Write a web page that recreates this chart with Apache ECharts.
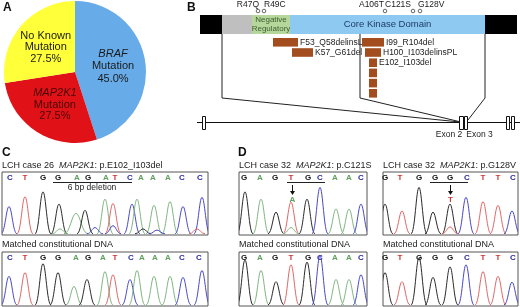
<!DOCTYPE html>
<html><head><meta charset="utf-8">
<script src="https://cdn.jsdelivr.net/npm/echarts@6/dist/echarts.min.js"></script>
<style>html,body{margin:0;padding:0;background:#fff}#c{width:520px;height:307px}</style>
</head><body><div id="c"></div>
<script>
// ---------- Panel A: mutation frequencies ----------
const pieCategories = ['BRAF', 'MAP2K1', 'No Known'];
const pieValues = [45.0, 27.5, 27.5];

// ---------- Panel B: MAP2K1 schematic (schematic position units) ----------
const domainNames = ['', '', 'Negative\nRegulatory', 'Core Kinase Domain', ''];
const domainStart = [10, 32, 62, 100, 295];
const domainEnd = [32, 62, 100, 295, 327];

const pointMutations = ['R47Q', 'R49C', 'A106T', 'C121S', 'G128V'];
const pointMutationPos = [68, 74, 195, 223, 230];

const deletionNames = ['F53_Q58delinsL', 'K57_G61del', 'I99_R104del', 'H100_I103delinsPL', 'E102_I103del', '', '', ''];
const deletionStart = [83, 102, 172, 175, 179, 179, 179, 179];
const deletionEnd = [108, 123, 194, 191, 187, 187, 187, 187];
const deletionRow = [0, 1, 0, 1, 2, 3, 4, 5];

const exonNames = ['', 'Exon 2', 'Exon 3', '', ''];
const exonStart = [12, 269, 274, 316, 321];
const exonEnd = [15, 273, 277, 319, 324];
const geneSpan = [7, 330];

// ---------- Panels C / D: chromatogram peaks [position, height %, base] ----------
const cTopSeq = 'CTGGAGATCAAACC';
const cTopLetterPos = [8, 23, 41, 56, 75, 86, 104, 113, 128, 139, 151, 166, 180, 198];
const cTopPeaks = [[7,44,'C'],[23,60,'T'],[41,68,'G'],[57,48,'G'],[74,33,'A',12],[83,38,'G'],[103,56,'A'],[111,49,'T'],[130,48,'C'],[135,56,'A'],[152,46,'A'],[168,52,'A'],[181,44,'C'],[200,59,'C'],
  [58,8,'A'],[93,10,'C'],[111,13,'C'],[141,8,'G'],[155,6,'C'],[195,8,'T']];
const cBotSeq = 'CTGGAGATCAAACC';
const cBotLetterPos = [8, 23, 41, 56, 74, 86, 101, 113, 129, 140, 153, 166, 180, 197];
const cBotPeaks = [[7,54,'C'],[23,61,'T'],[41,78,'G'],[56,61,'G'],[72,35,'A'],[85,48,'G'],[103,63,'A'],[111,57,'T'],[128,48,'C'],[135,65,'A'],[152,54,'A'],[168,54,'A'],[181,52,'C'],[200,65,'C']];

const d1TopSeq = 'GAGTGCAAC';
const d1TopLetterPos = [5, 21, 36, 52, 69, 81, 96, 110, 122];
const d1TopPeaks = [[6,68,'G'],[22,56,'A'],[37,35,'G'],[52,51,'T'],[68,56,'G'],[81,75,'C'],[97,40,'A'],[110,40,'A'],[122,48,'C'],[52,10,'A']];
const d1BotSeq = 'GAGTGCAAC';
const d1BotLetterPos = [5, 21, 36, 52, 69, 81, 96, 110, 122];
const d1BotPeaks = [[6,85,'G'],[22,65,'A'],[37,44,'G'],[52,76,'T'],[68,81,'G'],[81,93,'C'],[97,48,'A'],[110,48,'A'],[122,57,'C']];

const d2TopSeq = 'GTGGGCTTC';
const d2TopLetterPos = [2, 17, 36, 52, 67, 84, 100, 115, 130];
const d2TopPeaks = [[2,48,'G'],[19,37,'T'],[36,75,'G'],[50,35,'G'],[67,48,'G'],[83,59,'C'],[100,52,'T'],[115,46,'T'],[129,37,'C'],[67,11,'T']];
const d2BotSeq = 'GTGGGCTTC';
const d2BotLetterPos = [2, 17, 36, 52, 67, 84, 100, 115, 130];
const d2BotPeaks = [[2,61,'G'],[19,44,'T'],[36,89,'G'],[50,52,'G'],[67,72,'G'],[83,76,'C'],[100,63,'T'],[115,54,'T'],[129,43,'C']];

// ---------- styling ----------
const FONT = 'Arial, "Liberation Sans", sans-serif';
const peakColor = {A:'#7fb57f', C:'#4848c8', G:'#2a2a2a', T:'#e06666'};
const letterColor = {A:'#5f9f5f', C:'#2a2aa8', G:'#111111', T:'#cc3333'};
const domainColor = ['#000000', '#bfbfbf', '#b5d79c', '#8ec9f1', '#000000'];

const chart = echarts.init(document.getElementById('c'), null, {renderer:'canvas', width:520, height:307});

// chromatogram boxes: [left, top, width, height]
const boxes = [[2,172,206,63],[2,252,206,54],[239,172,128,63],[239,252,128,54],[383,172,135,63],[383,252,135,54]];
const traces = [
  [cTopSeq, cTopLetterPos, cTopPeaks, 8],
  [cBotSeq, cBotLetterPos, cBotPeaks, 8],
  [d1TopSeq, d1TopLetterPos, d1TopPeaks, 8],
  [d1BotSeq, d1BotLetterPos, d1BotPeaks, 8],
  [d2TopSeq, d2TopLetterPos, d2TopPeaks, 8],
  [d2BotSeq, d2BotLetterPos, d2BotPeaks, 8]
];

const grids = [{left:190, top:0, width:330, height:150, show:false}];
const xAxes = [{gridIndex:0, type:'value', min:0, max:330, show:false}];
const yAxes = [{gridIndex:0, type:'value', min:0, max:150, inverse:true, show:false}];
boxes.forEach((b, i) => {
  grids.push({left:b[0], top:b[1], width:b[2], height:b[3], show:true, borderColor:'#555', borderWidth:1, backgroundColor:'transparent'});
  xAxes.push({gridIndex:i+1, type:'value', min:0, max:b[2], show:false});
  yAxes.push({gridIndex:i+1, type:'value', min:-2, max:100, show:false});
});

const series = [];

// Pie
const pieRich = {
  i:{fontFamily:FONT, fontSize:11, fontStyle:'italic', color:'#1a1a1a', lineHeight:12.5},
  n:{fontFamily:FONT, fontSize:11, color:'#1a1a1a', lineHeight:12.5},
  ir:{fontFamily:FONT, fontSize:11, fontStyle:'italic', color:'#4a0505', lineHeight:11.5},
  nr:{fontFamily:FONT, fontSize:11, color:'#4a0505', lineHeight:11.5},
  m:{fontFamily:FONT, fontSize:11, color:'#1a1a1a', lineHeight:11.5}
};
const pieLabelText = [
  '{i|BRAF}\n{n|Mutation}\n{n|45.0%}',
  '{ir|MAP2K1}\n{nr|Mutation}\n{nr|27.5%}',
  '{m|No Known}\n{m|Mutation}\n{m|27.5%}'
];
const pieColors = ['#67abe8', '#e01218', '#ffff3a'];
series.push({
  type:'pie', center:[75,72], radius:71, startAngle:90, clockwise:true, silent:true,
  animation:false,
  data: pieCategories.map((c, i) => ({name:c, value:pieValues[i], itemStyle:{color:pieColors[i]}})),
  label:{show:true, position:'inside', formatter:(p)=>pieLabelText[p.dataIndex], rich:pieRich},
  labelLine:{show:false},
  itemStyle:{borderWidth:0}
});

// Panel B: connectors
const connectors = [[[32,34],[32,98],[270,122]], [[170,34],[170,98],[271,122]], [[295,34],[295,98],[278,120]]];
series.push({
  type:'custom', xAxisIndex:0, yAxisIndex:0, silent:true, animation:false,
  data: connectors.map((c, i) => [i]),
  renderItem:(params, api) => ({type:'polyline', shape:{points:connectors[params.dataIndex].map(p => api.coord(p))}, style:{stroke:'#222', lineWidth:1, fill:null}})
});
// gene line + exons
series.push({
  type:'custom', xAxisIndex:0, yAxisIndex:0, silent:true, animation:false,
  data: [[0]],
  renderItem:(params, api) => {
    const a = api.coord([geneSpan[0], 122]), b = api.coord([geneSpan[1], 122]);
    const children = [{type:'line', shape:{x1:a[0], y1:a[1]+0.5, x2:b[0], y2:b[1]+0.5}, style:{stroke:'#111', lineWidth:1}}];
    exonStart.forEach((s, i) => {
      const p0 = api.coord([s, 116]), p1 = api.coord([exonEnd[i], 129]);
      children.push({type:'rect', shape:{x:Math.round(p0[0])+0.5, y:p0[1]+0.5, width:p1[0]-p0[0], height:p1[1]-p0[1]}, style:{fill:'#fff', stroke:'#111', lineWidth:1}});
    });
    [[1, 449], [2, 480]].forEach(([i, cx]) => {
      const p = api.coord([(exonStart[i] + exonEnd[i]) / 2, 135]);
      children.push({type:'text', x:i === 1 ? p[0] - 12 : p[0] + 14, y:p[1], style:{text:exonNames[i], font:'8.5px ' + FONT, fill:'#222', align:'center', verticalAlign:'middle'}});
    });
    return {type:'group', children};
  }
});
// domains
series.push({
  type:'custom', xAxisIndex:0, yAxisIndex:0, silent:true, animation:false,
  data: domainStart.map((s, i) => [s, domainEnd[i]]),
  renderItem:(params, api) => {
    const i = params.dataIndex;
    const p0 = api.coord([domainStart[i], 15]), p1 = api.coord([domainEnd[i], 34]);
    const children = [{type:'rect', shape:{x:p0[0], y:p0[1], width:p1[0]-p0[0], height:p1[1]-p0[1]}, style:{fill:domainColor[i]}}];
    if (domainNames[i]) {
      const isNeg = i === 2;
      children.push({type:'text', x:(p0[0]+p1[0])/2, y:(p0[1]+p1[1])/2, style:{text:domainNames[i], font:(isNeg ? '8px ' : '9.5px ') + FONT, lineHeight:isNeg ? 8.5 : 11, fill:isNeg ? '#3d6030' : '#1e3d66', align:'center', verticalAlign:'middle'}});
    }
    return {type:'group', children};
  }
});
// deletions
series.push({
  type:'custom', xAxisIndex:0, yAxisIndex:0, silent:true, animation:false,
  data: deletionStart.map((s, i) => [s, deletionEnd[i], deletionRow[i]]),
  renderItem:(params, api) => {
    const i = params.dataIndex;
    const top = 38 + deletionRow[i] * 10.2;
    const p0 = api.coord([deletionStart[i], top]), p1 = api.coord([deletionEnd[i], top + 8.6]);
    const children = [{type:'rect', shape:{x:p0[0], y:p0[1], width:p1[0]-p0[0], height:p1[1]-p0[1]}, style:{fill:'#a34d1e'}}];
    if (deletionNames[i]) children.push({type:'text', x:p1[0]+2, y:(p0[1]+p1[1])/2, style:{text:deletionNames[i], font:'8.5px ' + FONT, fill:'#222', align:'left', verticalAlign:'middle'}});
    return {type:'group', children};
  }
});
// point mutations
const pmAlign = ['right', 'left', 'right', 'right', 'left'];
const pmShift = [1, 0, -1, -2, -2];
series.push({
  type:'custom', xAxisIndex:0, yAxisIndex:0, silent:true, animation:false,
  data: pointMutationPos.map(p => [p]),
  renderItem:(params, api) => {
    const i = params.dataIndex;
    const c = api.coord([pointMutationPos[i], 11]);
    const t = api.coord([pointMutationPos[i], 4.5]);
    return {type:'group', children:[
      {type:'circle', shape:{cx:c[0], cy:c[1], r:1.8}, style:{fill:'#fff', stroke:'#444', lineWidth:0.8}},
      {type:'text', x:t[0]+pmShift[i], y:t[1], style:{text:pointMutations[i], font:'8.5px ' + FONT, fill:'#222', align:pmAlign[i], verticalAlign:'middle'}}
    ]};
  }
});

// chromatograms
traces.forEach((tr, gi) => {
  const [seq, lpos, peaks, w0] = tr;
  series.push({
    type:'custom', xAxisIndex:gi+1, yAxisIndex:gi+1, clip:true, silent:true, animation:false,
    data: peaks.map(p => [p[0], p[1]]),
    renderItem:(params, api) => {
      const p = peaks[params.dataIndex];
      const w = p[3] || w0;
      const a = api.coord([p[0]-w, 0]), b = api.coord([p[0], p[1]]), c = api.coord([p[0]+w, 0]);
      const dx = b[0] - a[0];
      const st = {stroke:peakColor[p[2]], lineWidth:1, fill:null};
      return {type:'group', children:[
        {type:'bezierCurve', shape:{x1:a[0], y1:a[1], cpx1:a[0]+dx*0.5, cpy1:a[1], cpx2:b[0]-dx*0.35, cpy2:b[1], x2:b[0], y2:b[1]}, style:st},
        {type:'bezierCurve', shape:{x1:b[0], y1:b[1], cpx1:b[0]+dx*0.35, cpy1:b[1], cpx2:c[0]-dx*0.5, cpy2:c[1], x2:c[0], y2:c[1]}, style:st}
      ]};
    }
  });
  series.push({
    type:'custom', xAxisIndex:gi+1, yAxisIndex:gi+1, silent:true, animation:false,
    data: lpos.map(p => [p, 100]),
    renderItem:(params, api) => {
      const i = params.dataIndex;
      const pt = api.coord([lpos[i], 100]);
      return {type:'text', x:pt[0], y:pt[1]+5.5, style:{text:seq[i], font:'bold 8px ' + FONT, fill:letterColor[seq[i]], align:'center', verticalAlign:'middle'}};
    }
  });
});

// annotations
const txt = (x, y, text, opts = {}) => ({type:'text', x, y, silent:true, style:Object.assign({text, font:'9px ' + FONT, fill:'#222', align:'left', verticalAlign:'middle', rich:{i:{fontStyle:'italic', font:'italic 9px ' + FONT, fill:'#222'}}}, opts)});
const graphic = [
  txt(3, 8, 'A', {font:'bold 12px ' + FONT, fill:'#111'}),
  txt(187, 8, 'B', {font:'bold 12px ' + FONT, fill:'#111'}),
  txt(2, 153, 'C', {font:'bold 12px ' + FONT, fill:'#111'}),
  txt(238, 153, 'D', {font:'bold 12px ' + FONT, fill:'#111'}),
  txt(2, 165.5, 'LCH case 26  {i|MAP2K1}: p.E102_I103del'),
  txt(239, 165.5, 'LCH case 32  {i|MAP2K1}: p.C121S'),
  txt(383, 165.5, 'LCH case 32  {i|MAP2K1}: p.G128V'),
  txt(2, 245, 'Matched constitutional DNA'),
  txt(239, 245, 'Matched constitutional DNA'),
  txt(383, 245, 'Matched constitutional DNA'),
  {type:'line', silent:true, shape:{x1:53, y1:182.5, x2:132, y2:182.5}, style:{stroke:'#222', lineWidth:1}},
  txt(92, 188, '6 bp deletion', {align:'center', font:'8.5px ' + FONT}),
  {type:'line', silent:true, shape:{x1:287, y1:182.5, x2:325, y2:182.5}, style:{stroke:'#222', lineWidth:1}},
  {type:'line', silent:true, shape:{x1:292.5, y1:185, x2:292.5, y2:193}, style:{stroke:'#111', lineWidth:1}},
  {type:'polygon', silent:true, shape:{points:[[290,191],[295,191],[292.5,195]]}, style:{fill:'#111'}},
  txt(292.5, 199.5, 'A', {align:'center', font:'bold 8px ' + FONT, fill:letterColor.A}),
  {type:'line', silent:true, shape:{x1:430, y1:182.5, x2:468, y2:182.5}, style:{stroke:'#222', lineWidth:1}},
  {type:'line', silent:true, shape:{x1:450.5, y1:185, x2:450.5, y2:193}, style:{stroke:'#111', lineWidth:1}},
  {type:'polygon', silent:true, shape:{points:[[448,191],[453,191],[450.5,195]]}, style:{fill:'#111'}},
  txt(450.5, 199.5, 'T', {align:'center', font:'bold 8px ' + FONT, fill:letterColor.T})
];

chart.setOption({
  animation:false,
  backgroundColor:'#ffffff',
  grid:grids, xAxis:xAxes, yAxis:yAxes,
  series, graphic
});
</script></body></html>
